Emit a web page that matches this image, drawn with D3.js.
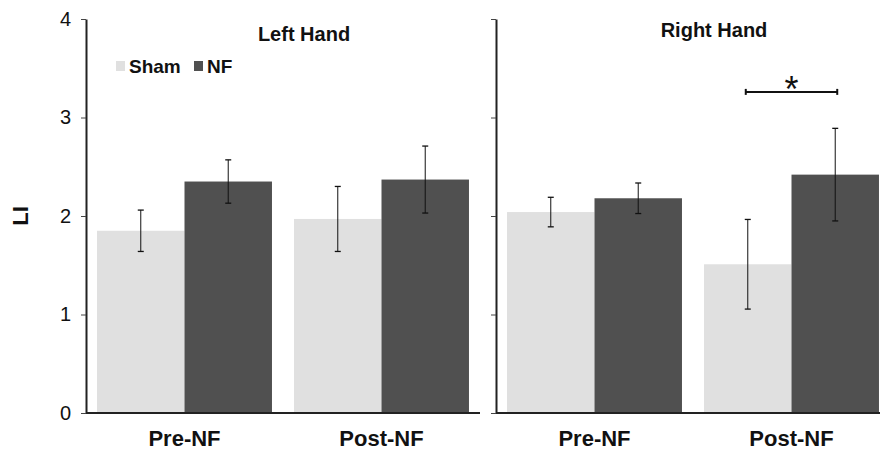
<!DOCTYPE html>
<html>
<head>
<meta charset="utf-8">
<script src="https://cdn.jsdelivr.net/npm/d3@7"></script>
<style>
  html, body { margin: 0; padding: 0; background: #fff; }
  svg { display: block; }
  text { font-family: "Liberation Sans", Arial, sans-serif; fill: #111; }
</style>
</head>
<body>
<svg id="chart" width="880" height="451"></svg>
<script>
// ---- data ----
const panels = ["Left Hand", "Right Hand"];
const sessions = ["Pre-NF", "Post-NF"];
const groups = ["Sham", "NF"];
const colors = ["#e0e0e0", "#505050"];
const yTicks = [0, 1, 2, 3, 4];
// means per series, indexed by session
const leftSham = [1.85, 1.97];
const leftNF = [2.35, 2.37];
const rightSham = [2.04, 1.51];
const rightNF = [2.18, 2.42];
// error half-widths
const leftShamErr = [0.21, 0.33];
const leftNFErr = [0.22, 0.34];
const rightShamErr = [0.15, 0.455];
const rightNFErr = [0.155, 0.47];
const sigBracketValue = 3.26;
const sigLabel = "*";

const means = [[leftSham, leftNF], [rightSham, rightNF]];
const errs = [[leftShamErr, leftNFErr], [rightShamErr, rightNFErr]];

// ---- layout ----
const svg = d3.select("#chart");
const y = d3.scaleLinear().domain([0, 4]).range([413, 19]);
const panelX = [86, 496];
const panelW = 394;

panels.forEach((pname, pi) => {
  const x0 = d3.scaleBand().domain(sessions)
    .range([panelX[pi], panelX[pi] + panelW])
    .paddingInner(0.112).paddingOuter(0.056);
  const x1 = d3.scaleBand().domain(groups).range([0, x0.bandwidth()]).padding(0);
  const g = svg.append("g");

  // bars
  sessions.forEach((s, si) => {
    groups.forEach((gr, gi) => {
      const v = means[pi][gi][si];
      g.append("rect")
        .attr("x", x0(s) + x1(gr))
        .attr("y", y(v))
        .attr("width", x1.bandwidth())
        .attr("height", y(0) - y(v))
        .attr("fill", colors[gi]);
    });
  });

  // error bars
  sessions.forEach((s, si) => {
    groups.forEach((gr, gi) => {
      const v = means[pi][gi][si], e = errs[pi][gi][si];
      const cx = x0(s) + x1(gr) + x1.bandwidth() / 2;
      g.append("line").attr("x1", cx).attr("x2", cx)
        .attr("y1", y(v - e)).attr("y2", y(v + e))
        .attr("stroke", "#111").attr("stroke-width", 1);
      [v - e, v + e].forEach(t => {
        g.append("line").attr("x1", cx - 3).attr("x2", cx + 3)
          .attr("y1", y(t)).attr("y2", y(t))
          .attr("stroke", "#111").attr("stroke-width", 1.3);
      });
    });
  });

  // y axis
  const ax = g.append("g").attr("transform", `translate(${panelX[pi]},0)`)
    .call(d3.axisLeft(y).tickValues(yTicks).tickSize(5).tickSizeOuter(0)
      .tickFormat(pi === 0 ? d3.format("d") : () => ""));
  ax.select(".domain").attr("stroke", "#222").attr("stroke-width", 2);
  ax.selectAll(".tick line").attr("stroke", "#444").attr("stroke-width", 1);
  ax.selectAll(".tick text").attr("font-size", 20).attr("x", -15)
    .style("font-family", "'Liberation Sans', Arial, sans-serif").attr("fill", "#111");

  // x baseline
  const xEnd = Math.min(panelX[pi] + panelW, 880);
  g.append("line").attr("x1", panelX[pi]).attr("x2", xEnd)
    .attr("y1", y(0)).attr("y2", y(0))
    .attr("stroke", "#222").attr("stroke-width", 2);

  // x labels
  sessions.forEach(s => {
    g.append("text").attr("x", x0(s) + x0.bandwidth() / 2).attr("y", 446)
      .attr("text-anchor", "middle").attr("font-size", 22).attr("font-weight", "bold")
      .text(s);
  });

  // panel title
  g.append("text").attr("x", panelX[pi] + (pi === 0 ? 218 : 218))
    .attr("y", pi === 0 ? 41 : 37)
    .attr("text-anchor", "middle").attr("font-size", 20).attr("font-weight", "bold")
    .text(pname);

  // significance bracket on right Post-NF
  if (pi === 1) {
    const s = sessions[1];
    const xa = x0(s) + x1(groups[0]) + x1.bandwidth() / 2;
    const xb = x0(s) + x1(groups[1]) + x1.bandwidth() / 2;
    const yb = y(sigBracketValue);
    g.append("line").attr("x1", xa - 2).attr("x2", xb + 2).attr("y1", yb).attr("y2", yb)
      .attr("stroke", "#111").attr("stroke-width", 2);
    [xa - 2, xb + 2].forEach(xx => {
      g.append("line").attr("x1", xx).attr("x2", xx).attr("y1", yb - 3).attr("y2", yb + 3)
        .attr("stroke", "#111").attr("stroke-width", 2);
    });
    g.append("text").attr("x", (xa + xb) / 2).attr("y", yb + 10)
      .attr("text-anchor", "middle").attr("font-size", 36).text(sigLabel);
  }
});

// legend
const legend = svg.append("g");
const legX = [116, 194];
groups.forEach((gr, gi) => {
  legend.append("rect").attr("x", legX[gi]).attr("y", 61).attr("width", 9).attr("height", 10)
    .attr("fill", colors[gi]);
  legend.append("text").attr("x", legX[gi] + 13).attr("y", 72.5)
    .attr("font-size", 19).attr("font-weight", "bold").text(gr);
});

// y label
svg.append("text").attr("transform", "translate(28,216) rotate(-90)")
  .attr("text-anchor", "middle").attr("font-size", 22).attr("font-weight", "bold").text("LI");
</script>
</body>
</html>
